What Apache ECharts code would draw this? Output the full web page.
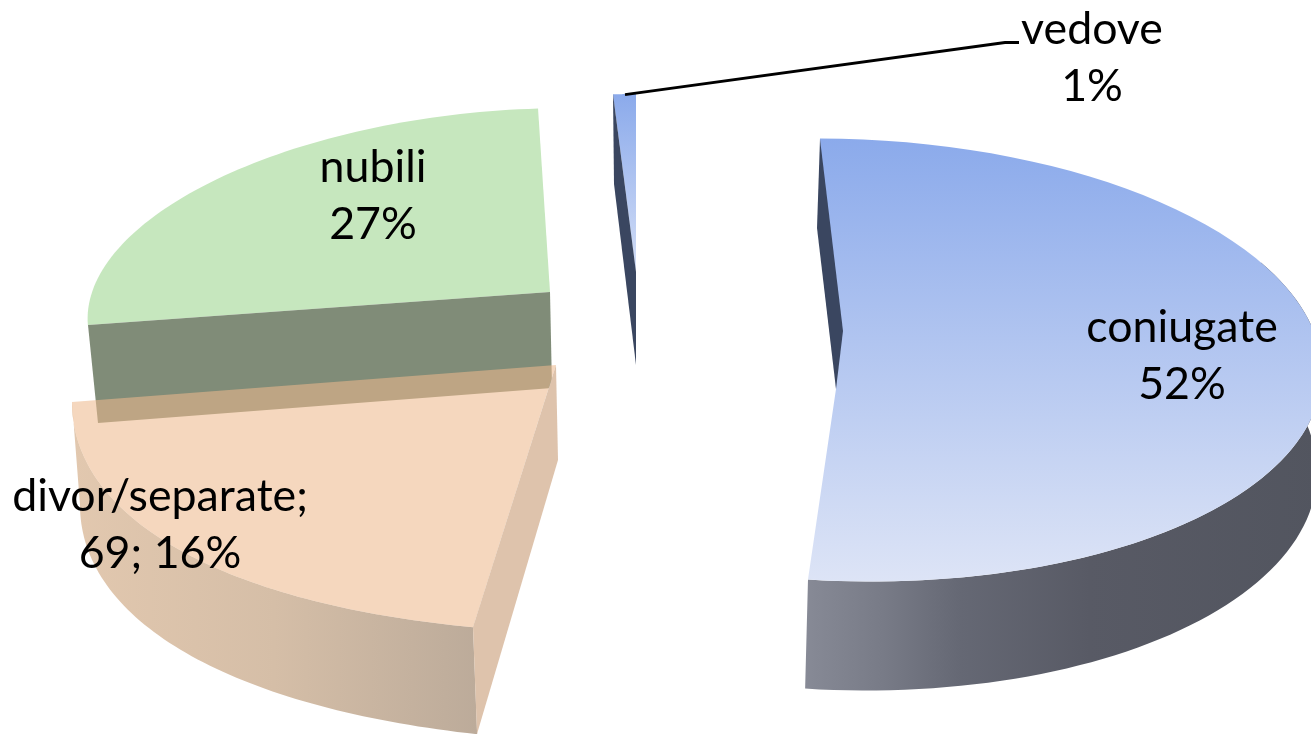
<!DOCTYPE html>
<html>
<head>
<meta charset="utf-8">
<style>html,body{margin:0;padding:0;background:#fff}#c{width:1311px;height:734px}</style>
<script src="https://cdn.jsdelivr.net/npm/echarts@6/dist/echarts.min.js"></script>
</head>
<body>
<div id="c"></div>
<script>
// ---- data ----
var categories = ['coniugate', 'divor/separate', 'nubili', 'vedove'];
var shares = [52, 16, 27, 1];          // percent of the whole circle (100)
var labelTexts = ['coniugate\n52%', 'divor/separate;\n69; 16%', 'nubili\n27%', 'vedove\n1%'];

// ---- layout and style ----
var fullTurn = 100;
var font = '44.7px Lato, sans-serif';
var blueFace = [[0, '#8baaeb'], [1, '#dde4f6']];
var sliceLayout = [
  { // coniugate
    z: 1, startDeg: -3.6, apex: [836, 389],
    top: { cx: 844, cy: 360, ux: 6, uy: -221, wx: 478, wy: 15 },
    wall: { cx: 841, cy: 460, ux: 6, uy: -230, wx: 476, wy: 15, fromDeg: 60 },
    face: { grad: blueFace },
    wallFill: { gradH: [[0, '#878a96'], [0.15, '#787b87'], [0.3, '#656874'], [0.55, '#585a65'], [1, '#52555f']] },
    inner: [[820, 139], [817, 228], [836, 389], [843, 331]], innerFill: '#3a4660',
    label: [1182, 356]
  },
  { // divor/separate
    z: 3, startDeg: 32.4, apex: [556, 365],
    top: { cx: 936, cy: 267, ux: 0, uy: 341, wx: -864, wy: 135 },
    wall: { cx: 935.6, cy: 384, ux: 0, uy: 338, wx: -855.6, wy: 121 },
    face: { solid: 'rgba(237,184,140,0.57)' },
    wallFill: { gradH: [[0, '#e2c8af'], [0.5, '#d5bea7'], [1, '#bcab9a']] },
    inner: [[556, 365], [558, 460], [477, 734], [473, 627]], innerFill: '#dec3ac',
    label: [160, 525]
  },
  { // nubili
    z: 2, startDeg: -92, apex: [550, 292],
    top: { cx: 500.6, cy: 290, ux: 0, uy: -179.6, wx: 413, wy: -28.7 },
    face: { solid: '#c6e7be' },
    inner: [[88, 325], [550, 292], [552, 388], [98, 423]], innerFill: '#808c78',
    label: [373, 196]
  },
  { // vedove
    z: 1, startDeg: -3.6, apex: [636, 272],
    top: { cx: 636, cy: 272, ux: 0, uy: -178, wx: 366, wy: 0 },
    face: { grad: [[0, '#8baaeb'], [1, '#d3def6']] },
    inner: [[613, 94], [614, 184], [636, 365], [636, 272]], innerFill: '#3a4660',
    label: [1092, 58],
    leader: [[625, 94.7], [1005, 42.5], [1019, 42.5]]
  }
];

function arc(e, fromDeg, toDeg) {
  var n = 72, pts = [];
  for (var k = 0; k <= n; k++) {
    var t = (fromDeg + (toDeg - fromDeg) * k / n) * Math.PI / 180;
    pts.push([e.cx + e.ux * Math.cos(t) + e.wx * Math.sin(t),
              e.cy + e.uy * Math.cos(t) + e.wy * Math.sin(t)]);
  }
  return pts;
}
function gradient(stops, horizontal) {
  return new echarts.graphic.LinearGradient(0, 0, horizontal ? 1 : 0, horizontal ? 0 : 1,
    stops.map(function (s) { return { offset: s[0], color: s[1] }; }));
}
function poly(points, fill, z2) {
  return { type: 'polygon', shape: { points: points }, style: { fill: fill, stroke: null }, z2: z2 };
}

function renderSlice(params, api) {
  var i = params.dataIndex, L = sliceLayout[i];
  var sweep = api.value(0) / fullTurn * 360;
  var end = L.startDeg + sweep, base = L.z * 10, children = [];
  var topArc = arc(L.top, L.startDeg, end);

  if (L.wall) {
    var wallFrom = L.wall.fromDeg !== undefined ? L.wall.fromDeg : L.startDeg;
    var upper = arc(L.top, wallFrom, end);
    var lower = arc(L.wall, wallFrom, end);
    children.push(poly(upper.concat(lower.reverse()), gradient(L.wallFill.gradH, true), base + 1));
  }
  var fill = L.face.grad ? gradient(L.face.grad, false) : L.face.solid;
  children.push(poly(topArc.concat([L.apex]), fill, base + 2));
  children.push(poly(L.inner, L.innerFill, base + 3));
  if (L.leader) {
    children.push({ type: 'polyline', shape: { points: L.leader },
      style: { stroke: '#000', lineWidth: 2.8, fill: null }, z2: 90 });
  }
  children.push({ type: 'text', z2: 100, style: {
    text: labelTexts[i], x: L.label[0], y: L.label[1], font: font, fill: '#000',
    align: 'center', verticalAlign: 'middle', lineHeight: 57 } });
  return { type: 'group', children: children };
}

var chart = echarts.init(document.getElementById('c'), null, { renderer: 'canvas' });
chart.setOption({
  backgroundColor: '#fff',
  animation: false,
  series: [{
    type: 'custom',
    coordinateSystem: 'none',
    silent: true,
    renderItem: renderSlice,
    data: categories.map(function (c, i) { return { name: c, value: [shares[i]] }; })
  }]
});
</script>
</body>
</html>
